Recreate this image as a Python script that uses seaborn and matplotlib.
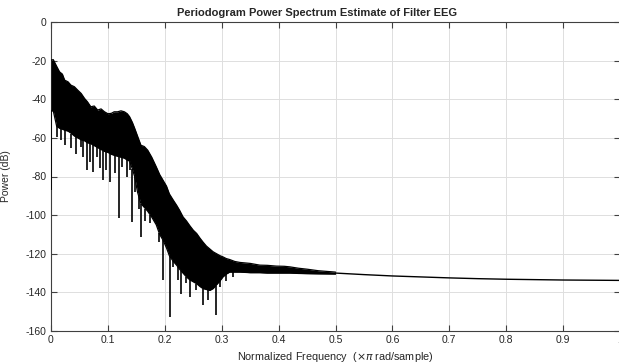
import matplotlib
matplotlib.use("Agg")
import matplotlib.pyplot as plt
import numpy as np
import pandas as pd
import seaborn as sns

# --- values (normalized freq, dB) ---
band_freq = [0.000, 0.004, 0.010, 0.015, 0.020, 0.024, 0.030, 0.035, 0.041,
             0.047, 0.053, 0.059, 0.064, 0.070, 0.076, 0.082, 0.088, 0.094,
             0.100, 0.106, 0.111, 0.117, 0.123, 0.129, 0.134, 0.138, 0.143,
             0.147, 0.152, 0.158, 0.164, 0.170, 0.177, 0.185, 0.191, 0.197,
             0.203, 0.208, 0.215, 0.221, 0.226, 0.232, 0.238, 0.244, 0.250,
             0.256, 0.262, 0.267, 0.273, 0.279, 0.285, 0.291, 0.297, 0.302,
             0.308, 0.314, 0.323, 0.332, 0.350, 0.367, 0.380, 0.396, 0.410,
             0.420, 0.435, 0.450, 0.470, 0.500]
band_upper = [-19.7, -19.5, -23.0, -25.8, -27.0, -30.1, -31.0, -32.7, -33.5,
              -35.3, -37.0, -39.6, -41.3, -43.9, -43.5, -45.6, -45.0, -46.5,
              -47.5, -47.3, -46.5, -46.5, -46.0, -46.5, -47.5, -49.0, -52.0,
              -55.0, -59.0, -63.8, -64.5, -66.4, -70.0, -75.0, -79.0, -82.0,
              -85.0, -89.0, -92.3, -95.0, -97.5, -100.9, -103.0, -105.5, -107.8,
              -109.5, -112.0, -113.9, -116.0, -117.5, -119.0, -120.0, -121.0,
              -121.6, -122.5, -123.0, -124.0, -124.5, -125.0, -125.9, -126.0,
              -126.4, -126.5, -126.8, -127.5, -128.0, -128.8, -129.5]
band_lower = [-46.0, -46.0, -54.0, -55.0, -55.5, -56.0, -56.5, -57.5, -59.0,
              -60.0, -61.0, -61.5, -62.5, -63.0, -64.0, -65.0, -66.0, -67.0,
              -67.5, -68.5, -69.0, -69.5, -70.0, -70.5, -71.5, -72.0, -76.0,
              -80.0, -88.0, -94.0, -96.0, -98.0, -101.0, -105.0, -110.0, -113.0,
              -117.0, -121.0, -124.0, -126.0, -128.0, -130.0, -132.0, -133.5,
              -134.5, -135.5, -137.0, -138.0, -138.5, -139.0, -138.0, -136.0,
              -134.0, -132.0, -130.5, -129.5, -129.5, -129.5, -129.8, -129.8,
              -130.0, -130.0, -130.0, -130.0, -130.2, -130.3, -130.4, -130.5]

spike_freq = [0.000, 0.0097, 0.0184, 0.0243, 0.036, 0.0448, 0.0536, 0.0565,
              0.0624, 0.0682, 0.074, 0.080, 0.0858, 0.0916, 0.0975, 0.103,
              0.112, 0.119, 0.124, 0.1327, 0.1385, 0.143, 0.147, 0.154, 0.159,
              0.166, 0.174, 0.190, 0.197, 0.2087, 0.215, 0.2234, 0.229, 0.238,
              0.244, 0.2557, 0.267, 0.276, 0.2896, 0.2966, 0.308, 0.320]
spike_db = [-87.0, -59.5, -61.2, -63.8, -65.5, -68.1, -64.6, -69.8,
            -76.7, -72.4, -77.6, -69.8, -75.8, -81.9, -76.7, -82.8,
            -78.4, -101.7, -75.0, -80.2, -76.7, -103.5, -88.0, -97.0, -111.2,
            -103.0, -104.0, -114.0, -133.7, -152.7, -127.0, -133.7, -140.6, -135.0,
            -142.3, -139.0, -146.6, -144.0, -151.8, -137.0, -134.0, -132.0]

tail_freq = [0.50, 0.55, 0.60, 0.65, 0.70, 0.75, 0.80, 0.85, 0.90, 0.95, 1.00]
tail_db = [-130.0, -130.8, -131.5, -132.0, -132.5, -132.9, -133.2, -133.4,
           -133.6, -133.7, -133.8]

x_ticks = [0, 0.1, 0.2, 0.3, 0.4, 0.5, 0.6, 0.7, 0.8, 0.9, 1]
x_ticklabels = ["0", "0.1", "0.2", "0.3", "0.4", "0.5", "0.6", "0.7", "0.8", "0.9", "1"]
y_ticks = [0, -20, -40, -60, -80, -100, -120, -140, -160]

sns.set_style("whitegrid")
plt.rcParams["font.family"] = ["Liberation Sans", "DejaVu Sans"]
plt.rcParams["mathtext.fontset"] = "dejavusans"
plt.rcParams["axes.unicode_minus"] = False

fig = plt.figure(figsize=(6.19, 3.64), dpi=100)
ax = fig.add_axes([51 / 619, 33 / 364, 569 / 619, 309 / 364])

band = pd.DataFrame({"f": band_freq, "up": band_upper, "lo": band_lower})
tail = pd.DataFrame({"f": tail_freq, "db": tail_db})

ax.fill_between(band["f"], band["lo"], band["up"], color="black", lw=0, zorder=3)
sns.lineplot(data=band, x="f", y="up", color="black", lw=0.9, ax=ax, zorder=3)
sns.lineplot(data=band, x="f", y="lo", color="black", lw=0.9, ax=ax, zorder=3)
sns.lineplot(data=tail, x="f", y="db", color="black", lw=1.0, ax=ax, zorder=3)

# downward spikes hanging from the dense band
spike_top = np.interp(spike_freq, band_freq, band_lower)
ax.vlines(spike_freq, spike_db, spike_top, color="black", lw=1.2, zorder=3)

ax.set_xlim(0, 1)
ax.set_ylim(-160, 0)
ax.set_xticks(x_ticks)
ax.set_xticklabels(x_ticklabels)
ax.set_yticks(y_ticks)

ax.grid(True, color="#dedede", lw=0.7)
for s in ax.spines.values():
    s.set_color("#404040")
    s.set_linewidth(0.8)
ax.tick_params(axis="both", direction="in", length=4, width=0.8,
               color="#404040", labelsize=7.5, labelcolor="#262626",
               top=True, right=True, bottom=True, left=True, pad=3)

ax.set_title("Periodogram Power Spectrum Estimate of Filter EEG",
             fontsize=8, fontweight="bold", x=(317 - 51) / 569, pad=4)
ax.set_xlabel(r"Normalized Frequency  ($\times\pi$ rad/sample)",
              fontsize=7.8, color="#262626")
ax.set_ylabel("Power (dB)", fontsize=7.5, color="#262626")
ax.xaxis.set_label_coords(0.5, -0.063)
ax.yaxis.set_label_coords(-0.070, 0.5)

fig.savefig("out.png", dpi=100)
